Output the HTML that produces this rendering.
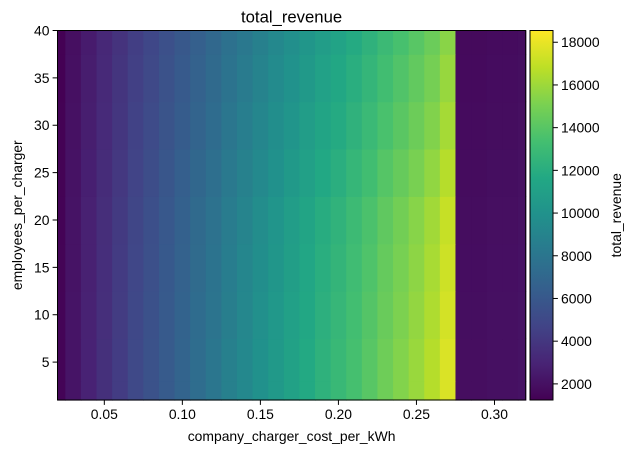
<!DOCTYPE html>
<html><head><meta charset="utf-8"><style>
body{margin:0;background:#fff;}
svg text{font-family:"Liberation Sans","DejaVu Sans",sans-serif;fill:#000;}
</style></head><body>
<svg id="chart" width="636" height="453" xmlns="http://www.w3.org/2000/svg">
<g id="cells"></g>
<g id="axes"></g>
<defs><linearGradient id="cbg" x1="0" y1="1" x2="0" y2="0"></linearGradient></defs>
</svg>
<script>
const xCats=[0.02,0.03,0.04,0.05,0.06,0.07,0.08,0.09,0.10,0.11,0.12,0.13,0.14,0.15,0.16,0.17,0.18,0.19,0.20,0.21,0.22,0.23,0.24,0.25,0.26,0.27,0.28,0.29,0.30,0.31,0.32];
const baseRevenue=[1400,2200,2900,3600,4300,5000,5600,6200,6800,7400,8000,8700,9300,9900,10500,11100,11700,12300,12800,13400,14000,14700,15300,15900,16600,17600,1900,1900,2000,2000,2100];
const yRows=[1,5,10,15,20,25,30,35,40];
const rowScale=[1.0,1.0,0.99,0.98,0.97,0.945,0.92,0.9,0.88];
const xTicks=[0.05,0.10,0.15,0.20,0.25,0.30];
const xTickLabels=["0.05","0.10","0.15","0.20","0.25","0.30"];
const yTicks=[5,10,15,20,25,30,35,40];
const cTicks=[2000,4000,6000,8000,10000,12000,14000,16000,18000];

const L=57.5,R=525.7,T=30.5,B=400;
const xMin=0.02,xMax=0.32,yMin=1,yMax=40,vMin=1245,vMax=18550;
const sx=v=>L+(v-xMin)/(xMax-xMin)*(R-L);
const sy=v=>B-(v-yMin)/(yMax-yMin)*(B-T);
const vir=[[68,1,84],[72,36,117],[65,68,135],[53,95,141],[42,120,142],[33,145,140],[34,168,132],[68,191,112],[122,209,81],[189,223,38],[253,231,37]];
function cmap(v){let t=Math.max(0,Math.min(1,(v-vMin)/(vMax-vMin)))*10;let i=Math.min(9,Math.floor(t)),f=t-i;
const a=vir[i],b=vir[i+1];return `rgb(${a.map((c,k)=>Math.round(c+(b[k]-c)*f)).join(',')})`;}
const NS="http://www.w3.org/2000/svg";
function mk(tag,attrs,parent){const e=document.createElementNS(NS,tag);for(const k in attrs)e.setAttribute(k,attrs[k]);parent.appendChild(e);return e;}
const cells=document.getElementById('cells'),axes=document.getElementById('axes');
const dx=xCats[1]-xCats[0];
yRows.forEach((yv,j)=>{
  const y0=j===0?yMin:(yRows[j-1]+yv)/2, y1=j===yRows.length-1?yMax:(yv+yRows[j+1])/2;
  xCats.forEach((xv,i)=>{
    const x0=Math.max(xMin,xv-dx/2),x1=Math.min(xMax,xv+dx/2);
    const r=mk('rect',{x:sx(x0),y:sy(y1),width:sx(x1)-sx(x0)+0.6,height:sy(y0)-sy(y1)+0.6,fill:cmap(baseRevenue[i]*rowScale[j])},cells);
    
    
  });
});
const fr=mk('rect',{x:L,y:T,width:R-L,height:B-T,fill:'none',stroke:'#000','stroke-width':1},axes);

xTicks.forEach((v,i)=>{const x=sx(v);mk('line',{x1:x,x2:x,y1:B,y2:B+4.9,stroke:'#000'},axes);
 const t=mk('text',{x:x,y:B+19,'text-anchor':'middle','font-size':'13.9px'},axes);t.textContent=xTickLabels[i];
 });
yTicks.forEach(v=>{const y=sy(v);mk('line',{x1:L-4.9,x2:L,y1:y,y2:y,stroke:'#000'},axes);
 const t=mk('text',{x:L-8,y:y+5,'text-anchor':'end','font-size':'13.9px'},axes);t.textContent=v;
 });
const CL=530,CR=553,cy=v=>B-(v-vMin)/(vMax-vMin)*(B-T);
const g=document.getElementById('cbg');
for(let k=0;k<=10;k++){mk('stop',{offset:k/10,'stop-color':`rgb(${vir[k].join(',')})`},g);}
const cb=mk('rect',{x:CL,y:T,width:CR-CL,height:B-T,fill:'url(#cbg)',stroke:'#000','stroke-width':1},axes);

cTicks.forEach(v=>{const y=cy(v);mk('line',{x1:CR,x2:CR+4.9,y1:y,y2:y,stroke:'#000'},axes);
 const t=mk('text',{x:CR+8,y:y+5,'font-size':'13.9px'},axes);t.textContent=v;
 });
function label(txt,x,y,size,rot,name){const t=mk('text',{x:x,y:y,'text-anchor':'middle','font-size':size},axes);
 if(rot)t.setAttribute('transform',`rotate(-90 ${x} ${y})`);t.textContent=txt;
 }
label('total_revenue',(L+R)/2,T-8,'16.7px',false,'chart-title');
label('company_charger_cost_per_kWh',(L+R)/2,B+41,'13.9px',false,'x-axis-title');
label('employees_per_charger',22,(T+B)/2,'13.9px',true,'y-axis-title');
label('total_revenue',621,(T+B)/2,'13.9px',true,'colorbar-title');
</script>
</body></html>
